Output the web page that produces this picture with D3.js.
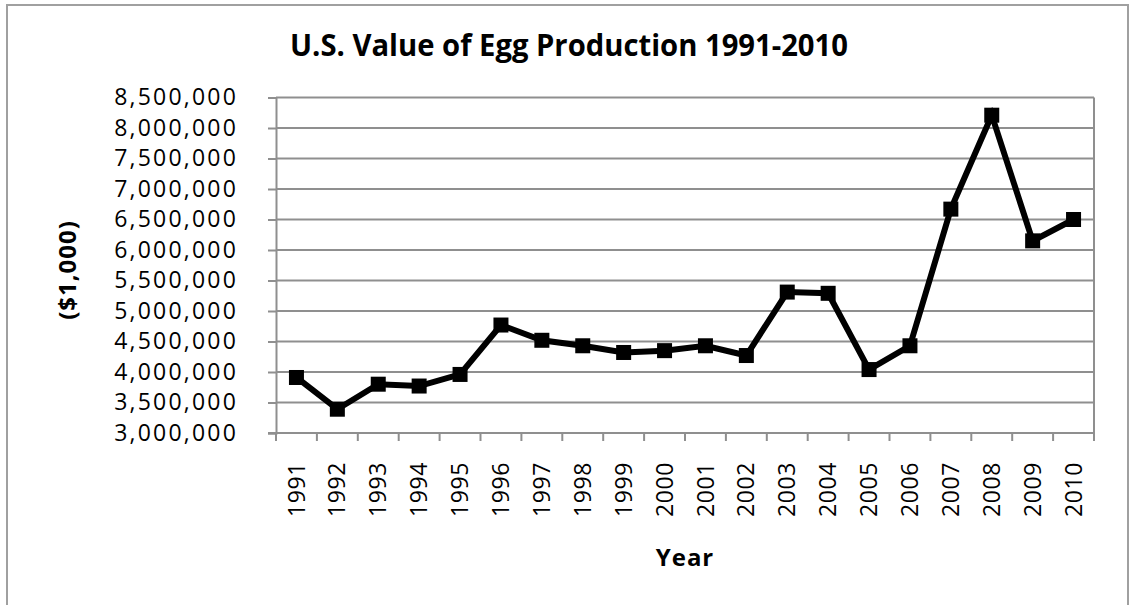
<!DOCTYPE html>
<html>
<head>
<meta charset="utf-8">
<script src="https://cdn.jsdelivr.net/npm/d3@7"></script>
<style>
  body { margin: 0; background: #fff; }
  svg { display: block; font-family: "Open Sans", Lato, sans-serif; }
</style>
</head>
<body>
<div id="chart"></div>
<script>
// --- données ---
const annees = ["1991","1992","1993","1994","1995","1996","1997","1998","1999","2000",
                "2001","2002","2003","2004","2005","2006","2007","2008","2009","2010"];
const valeurs = [3910000, 3390000, 3800000, 3770000, 3960000, 4770000, 4520000, 4430000, 4320000, 4350000,
                 4430000, 4270000, 5310000, 5290000, 4040000, 4430000, 6670000, 8210000, 6150000, 6500000];
const graduationsY = [3000000, 3500000, 4000000, 4500000, 5000000, 5500000,
                      6000000, 6500000, 7000000, 7500000, 8000000, 8500000];

const largeur = 1130, hauteur = 605;
const gris = "#8f8f8f";

const svg = d3.select("#chart").append("svg")
    .attr("width", largeur)
    .attr("height", hauteur);

// cadre du graphique
svg.append("rect")
    .attr("x", 7).attr("y", 5)
    .attr("width", 1121).attr("height", 640)
    .attr("fill", "none")
    .attr("stroke", "#a0a0a0")
    .attr("stroke-width", 2);

const x = d3.scaleBand().domain(annees).range([276, 1094]).padding(0);
const y = d3.scaleLinear().domain([3000000, 8500000]).range([433, 97.5]);

// lignes de grille
svg.append("g")
    .selectAll("line")
    .data(graduationsY)
    .join("line")
    .attr("x1", 276).attr("x2", 1094)
    .attr("y1", d => y(d)).attr("y2", d => y(d))
    .attr("stroke", gris).attr("stroke-width", 2);

// bord droit de la zone de tracé
svg.append("line")
    .attr("x1", 1094).attr("x2", 1094)
    .attr("y1", y(8500000)).attr("y2", y(3000000))
    .attr("stroke", gris).attr("stroke-width", 2);

// axe Y
const axeY = svg.append("g")
    .attr("transform", "translate(276,0)")
    .call(d3.axisLeft(y).tickValues(graduationsY).tickFormat(d3.format(",")).tickSize(8).tickPadding(30));
axeY.select(".domain").attr("stroke", gris).attr("stroke-width", 2);
axeY.selectAll(".tick line").attr("stroke", gris).attr("stroke-width", 2);
axeY.selectAll(".tick text")
    .attr("font-family", "'Open Sans', sans-serif")
    .attr("font-size", 23)
    .attr("letter-spacing", 2.2)
    .attr("fill", "#000");

// axe X : ligne + graduations aux bords des catégories
svg.append("line")
    .attr("x1", 268).attr("x2", 1094)
    .attr("y1", 433).attr("y2", 433)
    .attr("stroke", gris).attr("stroke-width", 2);

const bords = annees.map(a => x(a)).concat([x.range()[1]]);
svg.append("g")
    .selectAll("line")
    .data(bords)
    .join("line")
    .attr("x1", d => d).attr("x2", d => d)
    .attr("y1", 433).attr("y2", 441)
    .attr("stroke", gris).attr("stroke-width", 2);

svg.append("g")
    .selectAll("text")
    .data(annees)
    .join("text")
    .attr("transform", d => `translate(${x(d) + x.bandwidth() / 2},462) rotate(-90)`)
    .attr("text-anchor", "end")
    .attr("dy", "0.35em")
    .attr("font-size", 23)
    .attr("letter-spacing", 0.6)
    .text(d => d);

// la courbe
const ligne = d3.line()
    .x((d, i) => x(annees[i]) + x.bandwidth() / 2)
    .y(d => y(d));

svg.append("path")
    .datum(valeurs)
    .attr("d", ligne)
    .attr("fill", "none")
    .attr("stroke", "#000")
    .attr("stroke-width", 6)
    .attr("stroke-linejoin", "miter");

// marqueurs carrés
const cote = 15;
svg.append("g")
    .selectAll("rect")
    .data(valeurs)
    .join("rect")
    .attr("x", (d, i) => x(annees[i]) + x.bandwidth() / 2 - cote / 2)
    .attr("y", d => y(d) - cote / 2)
    .attr("width", cote).attr("height", cote)
    .attr("fill", "#000");

// titres
svg.append("text")
    .attr("x", 569).attr("y", 56)
    .attr("text-anchor", "middle")
    .attr("font-size", 30)
    .attr("font-weight", "bold")
    .attr("textLength", 558)
    .attr("lengthAdjust", "spacingAndGlyphs")
    .text("U.S. Value of Egg Production 1991-2010");

svg.append("text")
    .attr("x", 685).attr("y", 566)
    .attr("text-anchor", "middle")
    .attr("font-size", 24)
    .attr("font-weight", "bold")
    .attr("letter-spacing", 1)
    .text("Year");

svg.append("text")
    .attr("transform", "translate(68,270) rotate(-90)")
    .attr("text-anchor", "middle")
    .attr("dy", "0.35em")
    .attr("font-size", 24)
    .attr("font-weight", "bold")
    .attr("letter-spacing", 1)
    .text("($1,000)");
</script>
</body>
</html>
